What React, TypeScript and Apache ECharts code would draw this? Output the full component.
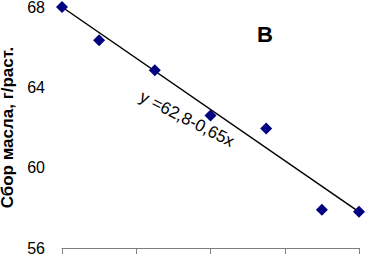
import React, { useEffect, useRef } from "react";
import * as echarts from "echarts";

const pointX = [0, 1, 2.5, 4, 5.5, 7, 8];
const pointY = [68.0, 66.35, 64.85, 62.6, 61.95, 57.9, 57.8];
const trendX = [0, 8];
const trendY = [68.0, 57.8];
const yTicks = { min: 56, max: 68, interval: 4 };
const yAxisTitle = "Сбор масла, г/раст.";
const equationText = "y =62,8-0,65x";
const panelLabel = "В";

export default function App() {
  const ref = useRef<HTMLDivElement>(null);
  useEffect(() => {
    if (!ref.current) return;
    const chart = echarts.init(ref.current, null, { renderer: "svg" });
    chart.setOption({
      animation: false,
      backgroundColor: "#ffffff",
      grid: {
        left: 62,
        right: 6,
        top: 7,
        bottom: 6,
        containLabel: false,
        outerBoundsMode: "none",
      },
      xAxis: {
        type: "value",
        min: 0,
        max: 8,
        interval: 2,
        axisLine: { show: true, lineStyle: { color: "#808080", width: 1 } },
        axisTick: { show: true, inside: false, length: 6, lineStyle: { color: "#808080" } },
        axisLabel: { show: false },
        splitLine: { show: false },
      },
      yAxis: {
        type: "value",
        min: yTicks.min,
        max: yTicks.max,
        interval: yTicks.interval,
        axisLine: { show: false },
        axisTick: { show: false },
        splitLine: { show: false },
        axisLabel: {
          color: "#000",
          fontSize: 16,
          fontFamily: "Liberation Sans, Arial, sans-serif",
          margin: 17,
        },
        name: yAxisTitle,
        nameLocation: "middle",
        nameRotate: 90,
        nameGap: 45,
        nameTextStyle: {
          color: "#000",
          fontSize: 17,
          fontWeight: "bold",
          fontFamily: "Liberation Sans, Arial, sans-serif",
        },
      },
      series: [
        {
          type: "line",
          data: trendX.map((x, i) => [x, trendY[i]]),
          showSymbol: false,
          lineStyle: { color: "#000", width: 1.5 },
          z: 1,
        },
        {
          type: "scatter",
          data: pointX.map((x, i) => [x, pointY[i]]),
          symbol: "diamond",
          symbolSize: 12,
          itemStyle: { color: "#000080", opacity: 1 },
          z: 2,
        },
      ],
      graphic: [
        {
          type: "text",
          x: 187,
          y: 119,
          rotation: -0.47,
          style: {
            text: equationText,
            fill: "#000",
            fontSize: 17,
            fontFamily: "Liberation Sans, Arial, sans-serif",
            align: "center",
            verticalAlign: "middle",
          },
        },
        {
          type: "text",
          x: 265,
          y: 34,
          style: {
            text: panelLabel,
            fill: "#000",
            fontSize: 22,
            fontWeight: "bold",
            fontFamily: "Liberation Sans, Arial, sans-serif",
            align: "center",
            verticalAlign: "middle",
          },
        },
      ],
    });
    return () => chart.dispose();
  }, []);
  return (
    <div
      ref={ref}
      style={{ position: "fixed", left: 0, top: 0, width: 365, height: 254 }}
    />
  );
}
